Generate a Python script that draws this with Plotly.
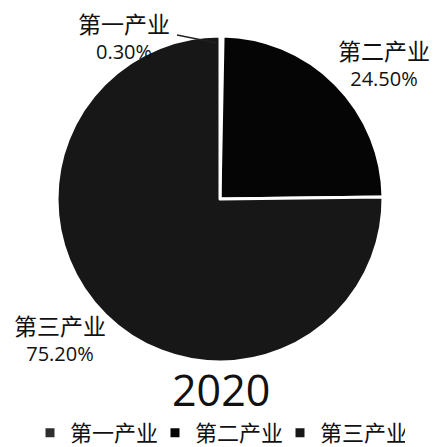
import plotly.graph_objects as go

labels = ["第一产业", "第二产业", "第三产业"]
values = [0.30, 24.50, 75.20]
colors = ["#2e2e2e", "#050505", "#171717"]
year = "2020"

W, H = 433, 447
cx, cy, r = 220, 199, 163

fig = go.Figure(go.Pie(
    labels=labels,
    values=values,
    sort=False,
    direction="clockwise",
    rotation=0,
    marker=dict(colors=colors, line=dict(color="white", width=3)),
    textinfo="none",
    domain=dict(x=[(cx - r) / W, (cx + r) / W], y=[(H - cy - r) / H, (H - cy + r) / H]),
    hoverinfo="label+percent",
))

# slice labels (positioned beside the pie as in the reference)
label_pos = [(124, 36), (384, 63), (60, 338)]
for name, val, (lx, ly) in zip(labels, values, label_pos):
    fig.add_annotation(
        text=f"<span style='font-size:23px'>{name}</span><br>{val:.2f}%",
        x=lx / W, y=1 - ly / H, xref="paper", yref="paper",
        xanchor="center", yanchor="middle",
        showarrow=False, font=dict(size=20, color="#111"),
    )
fig.add_shape(type="line", xref="paper", yref="paper",
              x0=177 / W, y0=1 - 35 / H, x1=217 / W, y1=1 - 43 / H,
              line=dict(color="#222", width=1.3))

fig.add_annotation(
    text=year, x=221 / W, y=1 - 389 / H, xref="paper", yref="paper",
    xanchor="center", yanchor="middle",
    showarrow=False, font=dict(size=43, color="#111"),
)

fig.update_layout(
    width=W, height=H,
    margin=dict(l=0, r=0, t=0, b=0, autoexpand=False),
    paper_bgcolor="white",
    font=dict(family="Open Sans, Noto Sans CJK SC, sans-serif"),
    showlegend=True,
    legend=dict(orientation="h", x=30 / W, xanchor="left",
                y=(H - 433) / H, yanchor="middle",
                font=dict(size=22, color="#111"), itemwidth=30, entrywidth=80,
                traceorder="normal", bgcolor="rgba(0,0,0,0)"),
)

fig.write_html("out.html", config={"displayModeBar": False},
               post_script="document.body.style.margin='0';")
